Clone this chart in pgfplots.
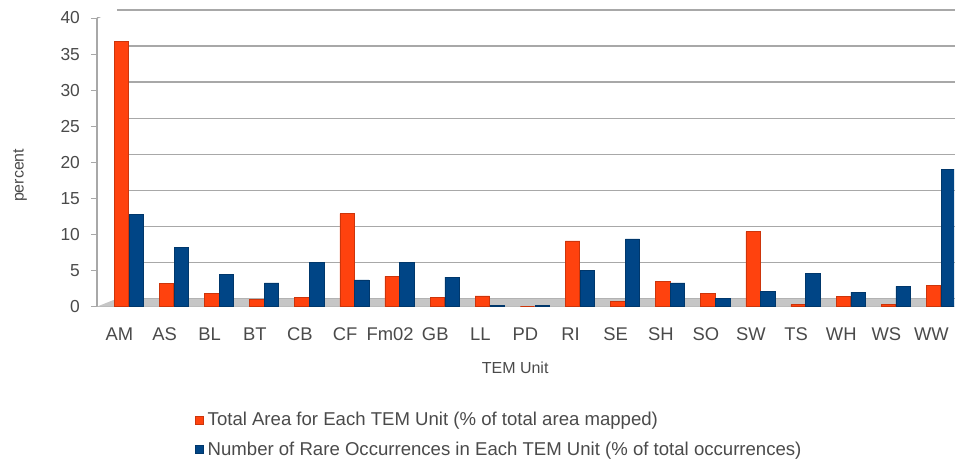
\documentclass[border=0pt]{standalone}
\usepackage{pgfplots}
\pgfplotsset{compat=1.18}
\usepackage{fontspec}
\setmainfont{Liberation Sans}
\definecolor{lo-orange}{HTML}{FF420E}
\definecolor{lo-blue}{HTML}{004586}
\definecolor{txt}{HTML}{4A4A4A}
\definecolor{gridc}{HTML}{A8A8A8}
\begin{document}
\begin{tikzpicture}
\path[use as bounding box] (-48.5pt,-76pt) rectangle (429.5pt,153.5pt);
\begin{axis}[
  at={(0,0)}, anchor=south west,
  scale only axis,
  width=429pt, height=144.5pt,
  ybar, bar width=7.2pt,
  ymin=0, ymax=40, ytick={0,5,...,40},
  xmin=-0.5, xmax=18.5,
  xtick={0,...,18},
  xticklabels={AM,AS,BL,BT,CB,CF,Fm02,GB,LL,PD,RI,SE,SH,SO,SW,TS,WH,WS,WW},
  x tick style={draw=none},
  y tick style={gridc},
  tick align=outside, major tick length=3pt,
  ymajorgrids, grid style={gridc, line width=0.7pt, xshift=10pt, yshift=4pt},
  axis x line*=bottom, axis y line*=left,
  axis line style={gridc, line width=0.7pt},
  /pgf/number format/assume math mode=true,
  xticklabel style={font=\fontsize{9.2}{11}\selectfont, text=txt, yshift=-4pt},
  yticklabel style={font=\fontsize{8.7}{10}\selectfont, text=txt, xshift=-2pt},
  ylabel={percent},
  ylabel style={font=\fontsize{8}{9}\selectfont, text=txt, at={(axis description cs:-0.0897,0.455)}, anchor=center},
  xlabel={TEM Unit},
  xlabel style={font=\fontsize{8}{9}\selectfont, text=txt, at={(axis description cs:0.488,-0.211)}, anchor=center},
  legend style={draw=none, fill=none, at={(axis description cs:0.1135,-0.35)}, anchor=north west,
    font=\fontsize{9.3}{11}\selectfont, text=txt, legend cell align=left, row sep=2.5pt, inner sep=0pt,
    /tikz/every even column/.append style={column sep=1pt}},
  legend image code/.code={\fill[#1] (0cm,-0.07cm) rectangle (0.15cm,0.08cm);},
]
\fill[gray!45] (rel axis cs:0,0) -- (rel axis cs:1,0) -- ([xshift=10pt,yshift=4pt]rel axis cs:1,0) -- ([xshift=10pt,yshift=4pt]rel axis cs:0,0) -- cycle;
\draw[gridc, line width=0.7pt] (rel axis cs:0,1) -- ([xshift=10pt,yshift=4pt]rel axis cs:0,1);
\addplot[fill=lo-orange, draw=lo-orange!80!black, line width=0.3pt, bar shift=1pt] coordinates {
(0,36.8) (1,3.2) (2,1.8) (3,1.0) (4,1.3) (5,12.9) (6,4.2) (7,1.3) (8,1.5) (9,0)
(10,9.1) (11,0.7) (12,3.5) (13,1.8) (14,10.4) (15,0.3) (16,1.4) (17,0.3) (18,3.0)};
\addlegendentry{Total Area for Each TEM Unit (\% of total area mapped)}
\addplot[fill=lo-blue, draw=lo-blue!80!black, line width=0.3pt, bar shift=8.4pt] coordinates {
(0,12.8) (1,8.2) (2,4.5) (3,3.3) (4,6.1) (5,3.7) (6,6.1) (7,4.1) (8,0.2) (9,0.2)
(10,5.0) (11,9.4) (12,3.3) (13,1.1) (14,2.1) (15,4.6) (16,2.0) (17,2.8) (18,19.0)};
\addlegendentry{Number of Rare Occurrences in Each TEM Unit (\% of total occurrences)}
\end{axis}
\end{tikzpicture}
\end{document}
